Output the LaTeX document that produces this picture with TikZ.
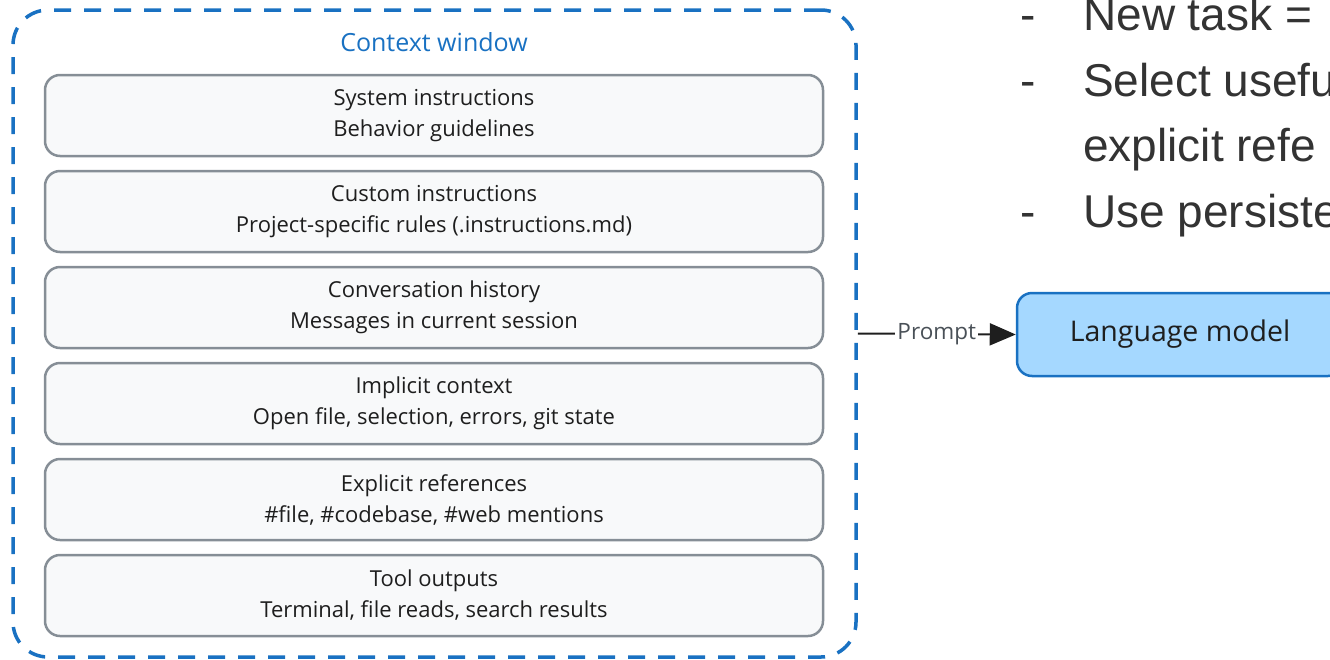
\documentclass[tikz,border=0pt]{standalone}
\usepackage{fontspec}
\setmainfont{Open Sans}
\newfontfamily\bulletfont{Liberation Sans}
\usetikzlibrary{arrows.meta}
\definecolor{ctxblue}{HTML}{1971C2}
\definecolor{boxgray}{HTML}{868E96}
\definecolor{boxfill}{HTML}{F8F9FA}
\definecolor{lmfill}{HTML}{A5D8FF}
\definecolor{inkdark}{HTML}{1E1E1E}
\definecolor{labelgray}{HTML}{495057}
\definecolor{bulletink}{HTML}{333333}
\tikzset{
  ctxbox/.style={draw=ctxblue, line width=3.5pt, dash pattern=on 17pt off 13pt,
    rounded corners=35pt, minimum width=843pt, minimum height=647pt, inner sep=0pt},
  layer/.style={draw=boxgray, fill=boxfill, line width=2.5pt, rounded corners=15pt,
    minimum width=778pt, minimum height=81pt, inner sep=0pt, align=center,
    text=inkdark, font=\fontsize{22}{31}\selectfont},
  lmbox/.style={draw=ctxblue, fill=lmfill, line width=2.5pt, rounded corners=15pt,
    minimum width=326pt, minimum height=83pt, inner sep=0pt, text=inkdark,
    font=\fontsize{28.5}{30}\selectfont},
  conn/.style={draw=inkdark, line width=2pt, -{Triangle[length=26pt,width=22pt]}},
  plabel/.style={fill=white, text=labelgray, inner sep=2pt, font=\fontsize{22.5}{24}\selectfont},
  bullet/.style={anchor=base west, inner sep=0pt, text=bulletink, font=\bulletfont\fontsize{46}{50}\selectfont}
}
\begin{document}
\begin{tikzpicture}[x=1pt,y=-1pt]
\useasboundingbox (0,0) rectangle (1330,659);
\clip (0,0) rectangle (1330,659);
\node[ctxbox] (ctx) at (434.5,333.5) {};
\node[text=ctxblue, font=\fontsize{25}{28}\selectfont] (title) at (434,42) {Context window};
\node[layer] (l1) at (434,115.5) {System instructions\\Behavior guidelines};
\node[layer] (l2) at (434,211.5) {Custom instructions\\Project-specific rules (.instructions.md)};
\node[layer] (l3) at (434,307.5) {Conversation history\\Messages in current session};
\node[layer] (l4) at (434,403.5) {Implicit context\\Open file, selection, errors, git state};
\node[layer] (l5) at (434,499.5) {Explicit references\\\#file, \#codebase, \#web mentions};
\node[layer] (l6) at (434,595.5) {Tool outputs\\Terminal, file reads, search results};
\node[lmbox] (lm) at (1180,334.5) {\raisebox{4pt}{Language model}};
\draw[conn] (ctx.east) -- node[plabel] (plab) {Prompt} (lm.west);
\node[bullet] (d1) at (1020,30) {-};
\node[bullet] (t1) at (1083,30) {New task =};
\node[bullet] (d2) at (1020,96) {-};
\node[bullet] (t2) at (1083,96) {Select usefu};
\node[bullet] (t3) at (1083,161) {explicit refe};
\node[bullet] (d4) at (1020,227) {-};
\node[bullet] (t4) at (1083,227) {Use persiste};
\end{tikzpicture}
\end{document}
